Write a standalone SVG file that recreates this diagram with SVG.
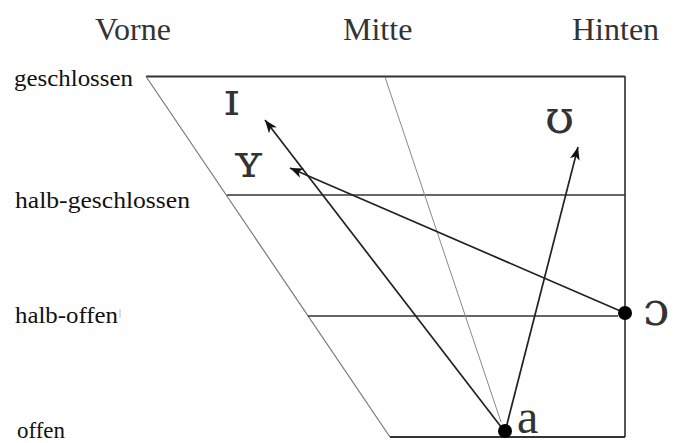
<svg xmlns="http://www.w3.org/2000/svg" width="679" height="443" viewBox="0 0 679 443">
<style>
  .hdr { font-family: "Liberation Serif", "Times New Roman", serif; font-size: 32px; fill: #333; }
  .lbl { font-family: "Liberation Serif", "Times New Roman", serif; font-size: 23px; fill: #111; }
  .ipa { font-family: "DejaVu Serif", "Liberation Serif", serif; font-size: 47px; fill: #333; }
  .ipa-a { font-family: "Liberation Serif", "Times New Roman", serif; font-size: 48px; fill: #333; }
  .frame { stroke: #333; stroke-width: 1.8; fill: none; }
  .thin { stroke: #777; stroke-width: 1.2; fill: none; }
  .arrow { stroke: #222; stroke-width: 1.7; fill: none; marker-end: url(#ah); }
</style>
<defs>
  <marker id="ah" markerUnits="userSpaceOnUse" markerWidth="14" markerHeight="10" refX="13" refY="5" orient="auto">
    <path d="M0,0 L13,5 L0,10 L3.5,5 Z" fill="#111"/>
  </marker>
</defs>
<rect width="679" height="443" fill="#fff"/>

<g id="headers">
  <text class="hdr" x="95" y="40">Vorne</text>
  <text class="hdr" x="343" y="40">Mitte</text>
  <text class="hdr" x="572" y="40">Hinten</text>
</g>

<g id="row-labels">
  <text class="lbl" x="14" y="86" textLength="119" lengthAdjust="spacingAndGlyphs">geschlossen</text>
  <text class="lbl" x="15" y="208" textLength="175" lengthAdjust="spacingAndGlyphs">halb-geschlossen</text>
  <text class="lbl" x="15" y="323" textLength="103" lengthAdjust="spacingAndGlyphs">halb-offen</text>
  <line x1="120" y1="309" x2="120" y2="318" stroke="#bbb" stroke-width="1"/>
  <text class="lbl" x="17" y="438" textLength="48" lengthAdjust="spacingAndGlyphs">offen</text>
</g>

<g id="trapezoid">
  <line class="frame" x1="146" y1="76.5" x2="625" y2="76.5"/>
  <line class="frame" x1="625" y1="76" x2="625" y2="437" stroke-width="1.5" style="stroke:#444"/>
  <line class="frame" x1="390" y1="437" x2="625" y2="437" style="stroke-width:2"/>
  <line class="thin" x1="146" y1="76.5" x2="390" y2="437"/>
  <line class="frame" x1="227" y1="195" x2="625" y2="195" style="stroke-width:1.5"/>
  <line class="frame" x1="308" y1="316" x2="618" y2="316" style="stroke-width:1.5"/>
  <line class="thin" x1="385" y1="77" x2="501" y2="422" style="stroke:#888;stroke-width:1"/>
</g>

<g id="connectors">
  <line class="arrow" x1="505" y1="432" x2="265" y2="120"/>
  <line class="arrow" x1="505" y1="432" x2="578" y2="147"/>
  <line class="arrow" x1="625" y1="313" x2="290" y2="168"/>
</g>

<g id="vowel-a">
  <circle cx="505" cy="431" r="7" fill="#000"/>
  <text class="ipa-a" x="517" y="433">a</text>
</g>
<g id="vowel-open-o">
  <circle cx="625" cy="313" r="7" fill="#000"/>
  <text class="ipa" x="643" y="325">ɔ</text>
</g>
<g id="vowel-I">
  <text class="ipa" x="224" y="115">ɪ</text>
</g>
<g id="vowel-Y">
  <text class="ipa" x="233" y="177">ʏ</text>
</g>
<g id="vowel-U">
  <text class="ipa" x="545" y="133">ʊ</text>
</g>
</svg>
